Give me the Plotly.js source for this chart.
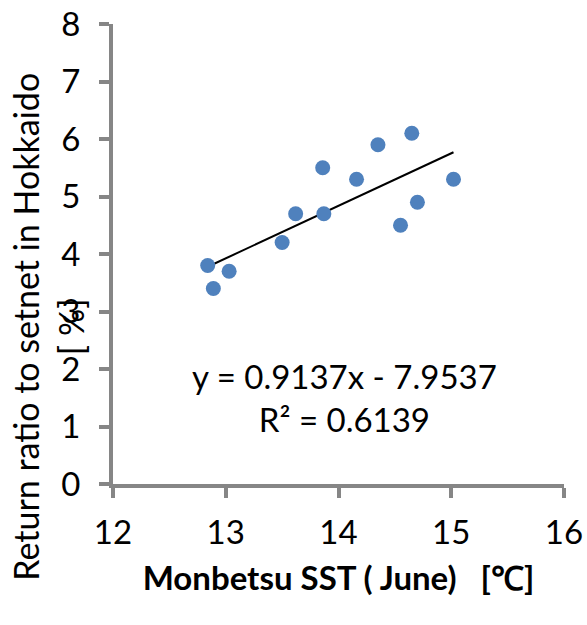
<!DOCTYPE html>
<html>
<head>
<meta charset="utf-8">
<script src="https://cdn.plot.ly/plotly-3.0.1.min.js"></script>
<style>html,body{margin:0;padding:0;background:#fff;}#chart{width:587px;height:625px;}</style>
</head>
<body>
<div id="chart"></div>
<script>
// Data
const sstJune = [12.84, 13.03, 12.89, 13.50, 13.62, 13.87, 13.86, 14.16, 14.35, 14.65, 14.55, 14.70, 15.02];
const returnRatio = [3.8, 3.7, 3.4, 4.2, 4.7, 4.7, 5.5, 5.3, 5.9, 6.1, 4.5, 4.9, 5.3];
const trendSlope = 0.9137;
const trendIntercept = -7.9537;
const rSquared = 0.6139;
const xTickVals = [12, 13, 14, 15, 16];
const yTickVals = [0, 1, 2, 3, 4, 5, 6, 7, 8];

const xMin = Math.min(...sstJune), xMax = Math.max(...sstJune);
const trendX = [xMin, xMax];
const trendY = trendX.map(x => trendSlope * x + trendIntercept);

const FONT = 'Lato, "Open Sans", sans-serif';
const FS = 33;

const traces = [
  {
    x: trendX, y: trendY, type: 'scatter', mode: 'lines',
    line: {color: '#000000', width: 2}, hoverinfo: 'skip'
  },
  {
    x: sstJune, y: returnRatio, type: 'scatter', mode: 'markers',
    marker: {color: '#4F81BD', size: 15, line: {width: 0}}
  }
];

const layout = {
  width: 587, height: 625,
  margin: {l: 113, r: 23, t: 24, b: 141},
  paper_bgcolor: '#ffffff', plot_bgcolor: '#ffffff',
  showlegend: false,
  font: {family: FONT, size: FS, color: '#000000'},
  xaxis: {
    range: [12, 16], tickvals: xTickVals, ticktext: xTickVals.map(String),
    showgrid: false, zeroline: false,
    showline: true, linecolor: '#868686', linewidth: 4,
    ticks: 'outside', ticklen: 10, tickwidth: 4, tickcolor: '#868686',
    ticklabelstandoff: 6,
    tickfont: {family: FONT, size: FS, color: '#000'},
    title: {text: '<b>Monbetsu SST ( June)   [℃]</b>', font: {family: FONT, size: FS, color: '#000'}, standoff: 18}
  },
  yaxis: {
    range: [0, 8], tickvals: yTickVals, ticktext: yTickVals.map(String),
    showgrid: false, zeroline: false,
    showline: true, linecolor: '#868686', linewidth: 4,
    ticks: 'outside', ticklen: 10, tickwidth: 4, tickcolor: '#868686',
    ticklabelstandoff: 12,
    tickfont: {family: FONT, size: FS, color: '#000'}
  },
  annotations: [
    {
      text: 'Return ratio to setnet in Hokkaido<br>[ %]',
      xref: 'paper', yref: 'paper', x: -0.145, y: 0.341, textangle: -90,
      xanchor: 'center', yanchor: 'middle', showarrow: false,
      font: {family: FONT, size: 34, color: '#000'}
    },
    {
      text: 'y = ' + trendSlope + 'x - ' + Math.abs(trendIntercept) + '<br>R² = ' + rSquared,
      xref: 'x', yref: 'y', x: 14.05, y: 1.51,
      xanchor: 'center', yanchor: 'middle', showarrow: false,
      font: {family: FONT, size: FS, color: '#000'}
    }
  ]
};

Plotly.newPlot('chart', traces, layout, {displayModeBar: false, staticPlot: true});
</script>
</body>
</html>
